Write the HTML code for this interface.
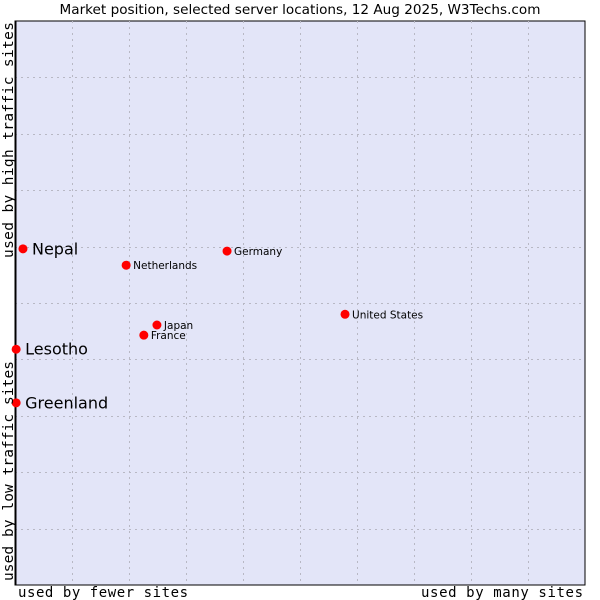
<!DOCTYPE html>
<html><head><meta charset="utf-8"><style>
body{margin:0;background:#fff;width:600px;height:600px;overflow:hidden}
svg{display:block}
</style></head><body>
<svg id="chart" width="600" height="600">
<text x="300" y="14" text-anchor="middle" font-family="DejaVu Sans, sans-serif" font-size="13.6" fill="#000">Market position, selected server locations, 12 Aug 2025, W3Techs.com</text>
<rect x="15" y="21" width="570" height="564" fill="#e3e5f8" stroke="#000" stroke-width="1"/>
<g id="grid"></g>
<line x1="15.5" y1="21" x2="15.5" y2="585" stroke="#000" stroke-width="2"/>
<g id="marks"></g>
<text x="103" y="597" text-anchor="middle" font-family="DejaVu Sans Mono, monospace" font-size="14" textLength="170">used by fewer sites</text>
<text x="502" y="597" text-anchor="middle" font-family="DejaVu Sans Mono, monospace" font-size="14" textLength="162">used by many sites</text>
<text transform="translate(13,140) rotate(-90)" text-anchor="middle" font-family="DejaVu Sans Mono, monospace" font-size="14.5" textLength="236">used by high traffic sites</text>
<text transform="translate(13,471) rotate(-90)" text-anchor="middle" font-family="DejaVu Sans Mono, monospace" font-size="14.5" textLength="220">used by low traffic sites</text>
</svg>
<script>
const names=["Nepal","Netherlands","Germany","United States","Japan","France","Lesotho","Greenland"];
const xValues=[1.4,19.5,37.2,57.9,24.9,22.6,0.2,0.2];
const yValues=[59.6,56.7,59.2,48.0,46.1,44.3,41.8,32.3];
const bigLabel=[true,false,false,false,false,false,true,true];
const NS="http://www.w3.org/2000/svg";
const X0=15,X1=585,Y0=585,Y1=21;
function sx(v){return X0+v/100*(X1-X0);}
function sy(v){return Y0-v/100*(Y0-Y1);}
const grid=document.getElementById('grid');
for(let i=1;i<10;i++){
  const gx=Math.round(sx(i*10))+0.5, gy=Math.round(sy(i*10))+0.5;
  const v=document.createElementNS(NS,'line');
  v.setAttribute('x1',gx);v.setAttribute('x2',gx);v.setAttribute('y1',Y1);v.setAttribute('y2',Y0);
  v.setAttribute('stroke','#b8b8c4');v.setAttribute('stroke-dasharray','2,4');
  
  
  grid.appendChild(v);
  const h=document.createElementNS(NS,'line');
  h.setAttribute('y1',gy);h.setAttribute('y2',gy);h.setAttribute('x1',X0);h.setAttribute('x2',X1);
  h.setAttribute('stroke','#b8b8c4');h.setAttribute('stroke-dasharray','2,4');
  
  
  grid.appendChild(h);
}
const marks=document.getElementById('marks');
names.forEach((n,i)=>{
  const x=sx(xValues[i]),y=sy(yValues[i]);
  const p=document.createElementNS(NS,'circle');
  p.setAttribute('cx',x);p.setAttribute('cy',y);p.setAttribute('r',4.5);
  p.setAttribute('fill','#f00');
  
  
  marks.appendChild(p);
  const t=document.createElementNS(NS,'text');
  const big=bigLabel[i];
  t.setAttribute('x',x+(big?9:7));
  t.setAttribute('y',y+(big?5.5:4));
  t.setAttribute('font-family','DejaVu Sans, sans-serif');
  t.setAttribute('font-size',big?16:10.5);
  t.textContent=n;
  
  
  marks.appendChild(t);
});
</script>
</body></html>
